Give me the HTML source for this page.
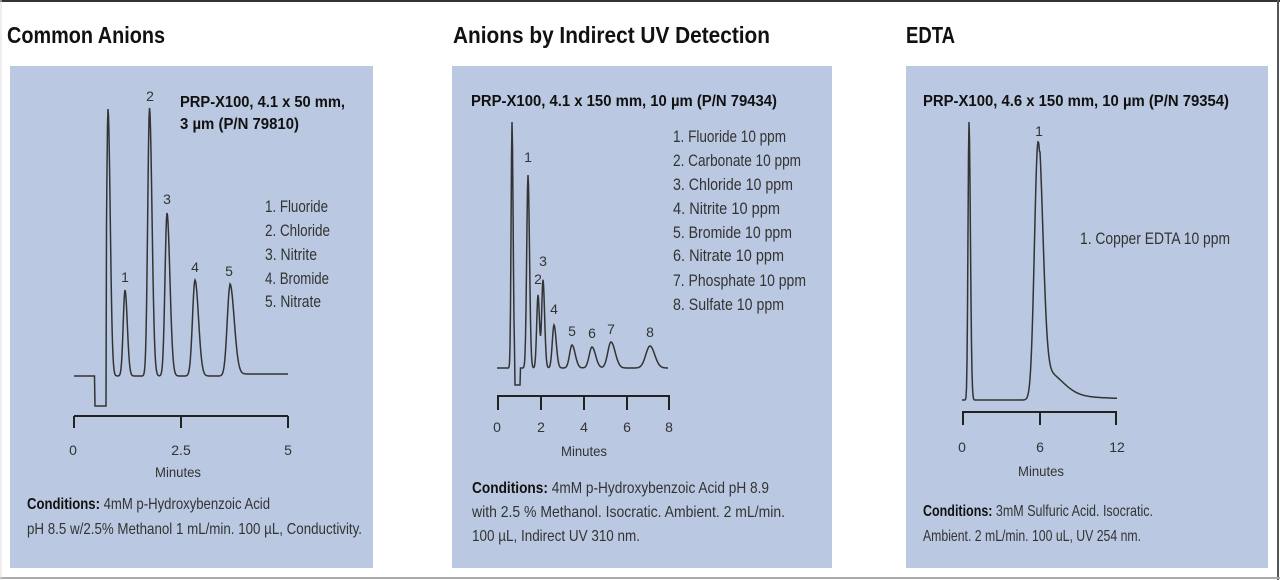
<!DOCTYPE html>
<html><head><meta charset="utf-8">
<style>
html,body{margin:0;padding:0;background:#fff;}
svg{display:block;}
text{font-family:"Liberation Sans",sans-serif;}
.t{font-size:23px;font-weight:bold;fill:#111;}
.h{font-size:15.5px;font-weight:bold;fill:#111;}
.l{font-size:16.5px;fill:#333;}
.k{font-size:14px;fill:#333;}
.c{font-size:16px;fill:#333;}
</style></head><body>
<svg id="s" width="1280" height="580" viewBox="0 0 1280 580" xmlns="http://www.w3.org/2000/svg">
<rect x="0" y="0" width="1280" height="580" fill="#fff"/>
<line x1="0" y1="1" x2="1280" y2="1" stroke="#333" stroke-width="2"/>
<line x1="1278" y1="0" x2="1278" y2="580" stroke="#555" stroke-width="2"/>
<line x1="0" y1="578" x2="1280" y2="578" stroke="#aaa" stroke-width="2"/>
<line x1="1" y1="0" x2="1" y2="580" stroke="#ddd" stroke-width="1"/>

<text class="t" x="7" y="43" textLength="158" lengthAdjust="spacingAndGlyphs">Common Anions</text>
<text class="t" x="453" y="43" textLength="317" lengthAdjust="spacingAndGlyphs">Anions by Indirect UV Detection</text>
<text class="t" x="906" y="43" textLength="49" lengthAdjust="spacingAndGlyphs">EDTA</text>

<rect x="10" y="66" width="363" height="502" fill="#bac9e1"/>
<rect x="452" y="66" width="380" height="502" fill="#bac9e1"/>
<rect x="906" y="66" width="362" height="502" fill="#bac9e1"/>

<!-- Panel 1 -->
<text class="h" x="180" y="107" textLength="165" lengthAdjust="spacingAndGlyphs">PRP-X100, 4.1 x 50 mm,</text>
<text class="h" x="180" y="129" textLength="119" lengthAdjust="spacingAndGlyphs">3 µm (P/N 79810)</text>
<g class="l">
<text x="265" y="212" textLength="63" lengthAdjust="spacingAndGlyphs">1. Fluoride</text>
<text x="265" y="236" textLength="65" lengthAdjust="spacingAndGlyphs">2. Chloride</text>
<text x="265" y="260" textLength="52" lengthAdjust="spacingAndGlyphs">3. Nitrite</text>
<text x="265" y="284" textLength="64" lengthAdjust="spacingAndGlyphs">4. Bromide</text>
<text x="265" y="307" textLength="56" lengthAdjust="spacingAndGlyphs">5. Nitrate</text>
</g>
<g class="k" text-anchor="middle">
<text x="125" y="282">1</text><text x="150" y="101">2</text><text x="167" y="204">3</text><text x="195" y="272">4</text><text x="229" y="276">5</text>
</g>
<path id="p1" fill="none" stroke="#333" stroke-width="1.5"/>
<g stroke="#222" stroke-width="2" fill="none">
<line x1="74" y1="416" x2="288" y2="416"/>
<line x1="74" y1="416" x2="74" y2="428"/><line x1="181" y1="416" x2="181" y2="428"/><line x1="288" y1="416" x2="288" y2="428"/>
</g>
<g class="k" text-anchor="middle"><text x="73" y="455">0</text><text x="181" y="455">2.5</text><text x="288" y="455">5</text><text x="178" y="477" textLength="46" lengthAdjust="spacingAndGlyphs">Minutes</text></g>
<text class="c" x="27" y="509" textLength="243" lengthAdjust="spacingAndGlyphs"><tspan font-weight="bold" fill="#111">Conditions:</tspan> 4mM p-Hydroxybenzoic Acid</text>
<text class="c" x="27" y="534" textLength="335" lengthAdjust="spacingAndGlyphs">pH 8.5 w/2.5% Methanol 1 mL/min. 100 µL, Conductivity.</text>

<!-- Panel 2 -->
<text class="h" x="471" y="106" textLength="306" lengthAdjust="spacingAndGlyphs">PRP-X100, 4.1 x 150 mm, 10 µm (P/N 79434)</text>
<g class="l">
<text x="673" y="142" textLength="113" lengthAdjust="spacingAndGlyphs">1. Fluoride 10 ppm</text>
<text x="673" y="166" textLength="128" lengthAdjust="spacingAndGlyphs">2. Carbonate 10 ppm</text>
<text x="673" y="190" textLength="120" lengthAdjust="spacingAndGlyphs">3. Chloride  10 ppm</text>
<text x="673" y="214" textLength="107" lengthAdjust="spacingAndGlyphs">4. Nitrite  10 ppm</text>
<text x="673" y="238" textLength="119" lengthAdjust="spacingAndGlyphs">5. Bromide  10 ppm</text>
<text x="673" y="261" textLength="111" lengthAdjust="spacingAndGlyphs">6. Nitrate  10 ppm</text>
<text x="673" y="286" textLength="133" lengthAdjust="spacingAndGlyphs">7. Phosphate  10 ppm</text>
<text x="673" y="310" textLength="111" lengthAdjust="spacingAndGlyphs">8. Sulfate  10 ppm</text>
</g>
<g class="k" text-anchor="middle">
<text x="528" y="162">1</text><text x="538" y="284">2</text><text x="543" y="266">3</text><text x="554" y="314">4</text><text x="572" y="336">5</text><text x="592" y="338">6</text><text x="611" y="334">7</text><text x="650" y="337">8</text>
</g>
<path id="p2" fill="none" stroke="#333" stroke-width="1.5"/>
<g stroke="#222" stroke-width="2" fill="none">
<line x1="497" y1="396" x2="670" y2="396"/>
<line x1="498" y1="396" x2="498" y2="410"/><line x1="541" y1="396" x2="541" y2="410"/><line x1="584" y1="396" x2="584" y2="410"/><line x1="627" y1="396" x2="627" y2="410"/><line x1="669" y1="396" x2="669" y2="410"/>
</g>
<g class="k" text-anchor="middle"><text x="497" y="432">0</text><text x="541" y="432">2</text><text x="584" y="432">4</text><text x="627" y="432">6</text><text x="669" y="432">8</text><text x="584" y="456" textLength="46" lengthAdjust="spacingAndGlyphs">Minutes</text></g>
<text class="c" x="472" y="493" textLength="297" lengthAdjust="spacingAndGlyphs"><tspan font-weight="bold" fill="#111">Conditions:</tspan> 4mM p-Hydroxybenzoic Acid pH 8.9</text>
<text class="c" x="472" y="517" textLength="313" lengthAdjust="spacingAndGlyphs">with 2.5 % Methanol. Isocratic. Ambient. 2 mL/min.</text>
<text class="c" x="472" y="541" textLength="168" lengthAdjust="spacingAndGlyphs">100 µL, Indirect UV 310 nm.</text>

<!-- Panel 3 -->
<text class="h" x="923" y="106" textLength="306" lengthAdjust="spacingAndGlyphs">PRP-X100, 4.6 x 150 mm, 10 µm (P/N 79354)</text>
<text class="l" x="1080" y="244" textLength="150" lengthAdjust="spacingAndGlyphs">1. Copper EDTA  10 ppm</text>
<text class="k" x="1039" y="136" text-anchor="middle">1</text>
<path id="p3" fill="none" stroke="#333" stroke-width="1.5"/>
<g stroke="#222" stroke-width="2" fill="none">
<line x1="962" y1="412" x2="1117" y2="412"/>
<line x1="963" y1="412" x2="963" y2="425"/><line x1="1040" y1="412" x2="1040" y2="425"/><line x1="1116" y1="412" x2="1116" y2="425"/>
</g>
<g class="k" text-anchor="middle"><text x="962" y="452">0</text><text x="1040" y="452">6</text><text x="1117" y="452">12</text><text x="1041" y="476" textLength="46" lengthAdjust="spacingAndGlyphs">Minutes</text></g>
<text class="c" x="923" y="516" textLength="230" lengthAdjust="spacingAndGlyphs"><tspan font-weight="bold" fill="#111">Conditions:</tspan> 3mM Sulfuric Acid. Isocratic.</text>
<text class="c" x="923" y="541" textLength="218" lengthAdjust="spacingAndGlyphs">Ambient. 2 mL/min. 100 uL, UV 254 nm.</text>
</svg>
<script>
function build(x0,x1,base,peaks,extra){
  var d="";
  for(var x=x0;x<=x1;x+=0.5){
    var y=typeof base==="function"?base(x):base;
    for(var i=0;i<peaks.length;i++){var p=peaks[i];var s=x<p[0]?p[2]:p[3];y-=p[1]*Math.exp(-Math.pow((x-p[0])/s,2)/2);}
    if(extra)y=extra(x,y);
    d+=(d?"L":"M")+x.toFixed(1)+" "+y.toFixed(1);
  }
  return d;
}
document.getElementById("p1").setAttribute("d",build(74,288,function(x){return x<230?376:374;},
 [[108,267,1.4,2.2],[125,86,1.8,2.3],[149.5,268,1.8,2.5],[167,163,2,2.9],[195,96,2.5,3.5],[230,90,2.8,4.2]],
 function(x,y){ if(x>=95&&x<=106) return 406; return y;}));
document.getElementById("p2").setAttribute("d",build(497,668,368,
 [[512,246,0.9,1.1],[528,193,1.3,1.5],[538,73,1.3,1.5],[543,88,1.3,1.6],[554,43,1.7,2.2],[572,23,2.4,3.2],[592,21,2.8,3.6],[611,26,3.2,4.2],[650,22,4.2,4.7]],
 function(x,y){ if(x>=515&&x<=520) return Math.max(y,385); return y;}));
document.getElementById("p3").setAttribute("d",build(962,1117,function(x){return x<1040?400:400-8*Math.exp(-(x-1040)/50);},
 [[969,278,1,1.4],[1038,252,3.6,4.6],[1046,22,5,16]],null));
</script>
</body></html>
